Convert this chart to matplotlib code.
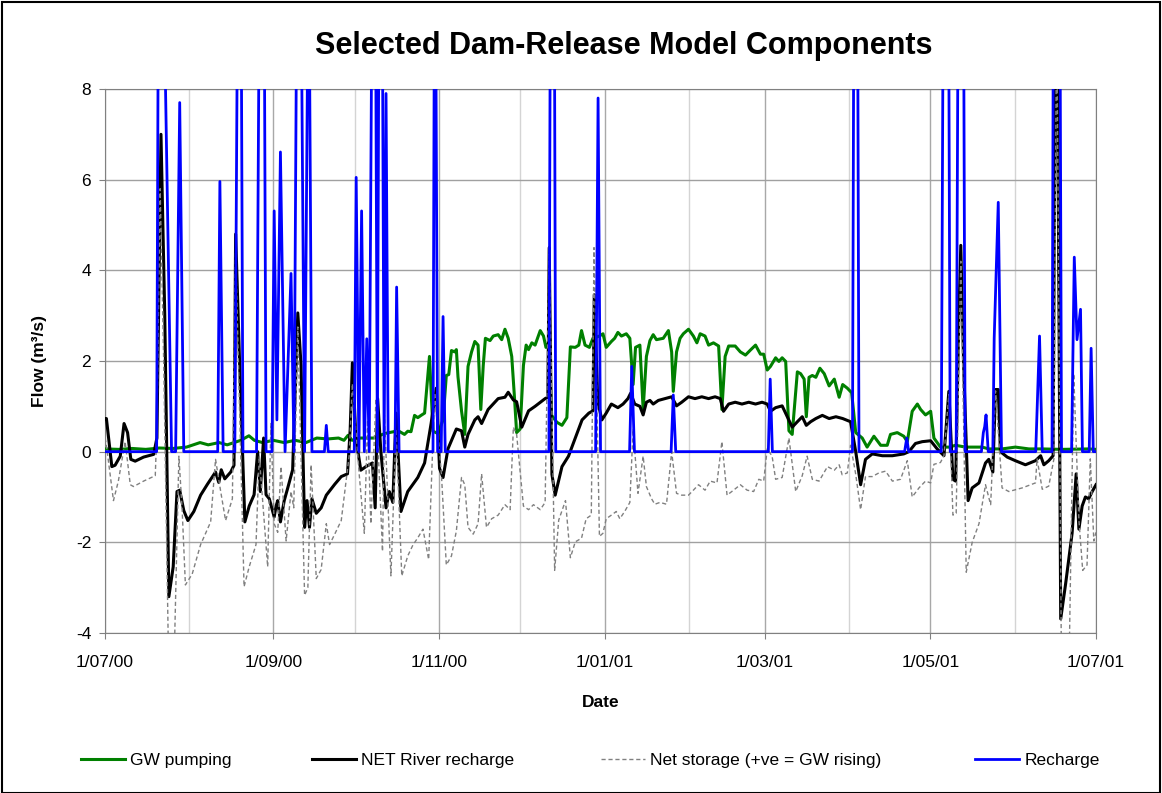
import pandas as pd
import matplotlib
matplotlib.use("Agg")
import matplotlib.pyplot as plt
import matplotlib.dates as mdates
from matplotlib.ticker import FuncFormatter, MultipleLocator
from matplotlib.patches import Rectangle

plt.rcParams['font.family'] = ['Liberation Sans', 'DejaVu Sans']
plt.rcParams['axes.unicode_minus'] = False

start = pd.Timestamp("2000-07-01")
end = pd.Timestamp("2001-07-01")

# days after 1/07/00 and flow (m3/s)
gw_day = [0, 5, 10, 15, 20, 25, 30, 35, 38, 42, 45, 50, 53, 55, 58, 62, 66, 70, 74, 78,
          82, 86, 88, 89.5, 91, 94, 99, 103, 108, 110.3, 111.5, 112.7, 114, 115.2, 116.4, 117.7, 119.5, 120.8, 122.6, 124.5,
          125.7, 126.6, 127.6, 128.8, 129.4, 130, 131.3, 132.5, 133.7, 135, 136.2, 137.4, 138.4, 139.3, 140.1, 141.8, 143, 144.8, 146.1, 147.3,
          148.5, 149.8, 150.8, 151.6, 152.9, 154.1, 155.1, 156, 157.2, 158.4, 160.3, 161.5, 162.4, 163.4, 164.5, 166.4, 168.3, 170.1, 171.4, 173.2,
          174.5, 175.5, 176.8, 178.4, 179.7, 182.1, 183.4, 184.6, 186.5, 187.7, 188.9, 190.2, 192, 193.3, 194.5, 195.4, 197, 198.2, 199.4, 200.7,
          201.9, 203.1, 205.6, 207.5, 208.7, 209.3, 210.5, 211.8, 213, 214.9, 216.7, 218, 219.2, 221, 222.3, 224.1, 226, 227.2, 228.4, 229.7,
          232.1, 234, 235.9, 237.7, 239.6, 241.4, 242.6, 243.9, 245.1, 247, 248.2, 249.4, 250.7, 251.9, 253.1, 255, 256.2, 257.5, 258.3, 259.3,
          260.5, 261.8, 263.3, 264.9, 266.7, 268.6, 270.4, 271.7, 273.4, 275, 276.5, 278.9, 280.7, 283.2, 285.7, 288.1, 289.3, 291.8, 294.2, 295.5,
          297.3, 299.2, 300.4, 302.2, 304.1, 305.3, 307.7, 310.8, 313.3, 316.9, 323.1, 325.5, 330.4, 335.3, 340.3, 345.2, 352.5, 362.3, 365]
gw_flow = [0.06, 0.05, 0.07, 0.05, 0.08, 0.07, 0.1, 0.2, 0.15, 0.2, 0.15, 0.25, 0.35, 0.25, 0.2, 0.25, 0.2, 0.25, 0.2, 0.3,
           0.28, 0.3, 0.25, 0.36, 0.25, 0.3, 0.3, 0.4, 0.46, 0.38, 0.45, 0.44, 0.8, 0.75, 0.8, 0.85, 2.1, 0.45, 0.4, 0.7,
           1.68, 1.7, 2.23, 2.2, 2.25, 1.65, 0.9, 0.38, 1.88, 2.2, 2.43, 2.35, 0.93, 1.9, 2.5, 2.45, 2.55, 2.58, 2.47, 2.7,
           2.5, 2.1, 1.2, 0.42, 0.5, 1.9, 2.35, 2.25, 2.4, 2.35, 2.67, 2.55, 2.3, 2.4, 0.8, 0.65, 0.58, 0.75, 2.31, 2.3,
           2.35, 2.67, 2.35, 2.3, 2.5, 2.55, 2.6, 2.3, 2.43, 2.5, 2.63, 2.55, 2.6, 2.5, 1.48, 2.3, 2.35, 0.93, 2.1, 2.45,
           2.58, 2.47, 2.5, 2.67, 2.2, 1.33, 2.2, 2.5, 2.6, 2.7, 2.55, 2.4, 2.6, 2.55, 2.35, 2.4, 2.33, 0.93, 2.1, 2.33,
           2.33, 2.2, 2.13, 2.24, 2.35, 2.15, 2.15, 1.8, 1.88, 2.07, 1.99, 2.07, 1.99, 0.46, 0.38, 1.76, 1.72, 1.6, 0.77, 1.64,
           1.68, 1.64, 1.84, 1.72, 1.45, 1.6, 1.2, 1.48, 1.4, 1.3, 0.42, 0.3, 0.1, 0.34, 0.14, 0.14, 0.38, 0.42, 0.34, 0.22,
           0.89, 1.05, 0.93, 0.81, 0.89, 0.3, 0.1, 0.1, 0.14, 0.1, 0.1, 0.06, 0.06, 0.1, 0.06, 0.06, 0.05, 0.06, 0.05]

river_day = [0, 0.5, 2.5, 3.7, 5.6, 7, 8.3, 9.5, 11.1, 14.2, 17.9, 19.1, 20.6, 22, 23.5, 25.1, 26.5, 27.5, 29, 30.5,
             32.7, 35.2, 37.7, 40.7, 41.9, 42.8, 44.1, 46.3, 47.5, 48.1, 49.8, 51.5, 53.1, 54.9, 56.2, 57.2, 58.4, 59.3, 60.5, 62.3,
             63, 63.6, 64.6, 66, 67.3, 69.1, 71, 72.2, 73.5, 74.4, 75.3, 76.2, 77.8, 79.6, 81.5, 84.6, 87, 89.3, 90.3, 91.1,
             92.4, 94.2, 96.1, 98.5, 99.5, 100.4, 101.6, 103.5, 104.7, 106, 107.2, 109, 111.5, 115.2, 117.7, 120.1, 122, 123.2, 124.5, 126.3,
             129.4, 131.3, 132.5, 133.7, 136.2, 137.4, 138.7, 141.1, 144.8, 147.3, 148.5, 150.4, 151.6, 153.5, 156, 158.4, 162.1, 163.1, 163.6, 164.6,
             165.8, 168.3, 170.7, 173.2, 175.7, 178.2, 179.7, 180.2, 181.5, 183, 184.6, 186.5, 188.9, 190.8, 192.6, 193.6, 195.1, 197, 198.2, 199.4,
             200.7, 201.9, 203.8, 206.2, 208.7, 210.5, 212.4, 214.9, 217.3, 219.8, 222.3, 224.7, 226.6, 227.8, 229.7, 232.1, 234.6, 237.1, 239.6, 242,
             243.9, 245.1, 247, 249.4, 251.3, 253.1, 255, 256.8, 258.3, 259.9, 261.8, 264.2, 266.7, 269.2, 271.7, 274.6, 276.5, 278.3, 280.1, 282.6,
             286.3, 290, 294.2, 296.1, 298.5, 301, 304.1, 306.5, 309, 310.8, 312.3, 313.3, 314.5, 315.2, 316.3, 317.9, 319.4, 321.9, 324.3, 325.5,
             327, 328, 329, 329.8, 332.3, 335.3, 339, 342.7, 344.6, 345.8, 347.6, 349.2, 350.1, 350.8, 352, 353.8, 356.2, 357.7, 358.7, 359.9,
             361.1, 362.3, 363.6, 365]
river_flow = [0.73, 0.73, -0.33, -0.3, -0.1, 0.62, 0.42, -0.17, -0.21, -0.12, -0.06, 0.3, 7.0, 3.0, -3.2, -2.54, -0.88, -0.85, -1.3, -1.52,
              -1.32, -0.96, -0.72, -0.45, -0.68, -0.4, -0.6, -0.45, -0.3, 4.8, 1.5, -1.55, -1.2, -0.95, 0.0, -0.88, 0.3, -0.95, -1.04, -1.44,
              -1.2, -1.08, -1.55, -1.08, -0.8, -0.4, 3.06, 1.9, -1.67, -1.08, -1.67, -1.04, -1.36, -1.24, -0.96, -0.72, -0.55, -0.49, 0.5, 1.96,
              0.3, -0.41, -0.33, -0.25, -1.24, 1.17, 0.0, -1.24, -0.88, -1.12, 0.85, -1.32, -0.88, -0.57, -0.25, 0.62, 1.4, -0.37, -0.57, 0.06,
              0.5, 0.46, 0.1, 0.38, 0.7, 0.77, 0.62, 0.93, 1.17, 1.2, 1.31, 1.14, 1.1, 0.54, 0.9, 1.0, 1.17, 1.2, 4.5, -0.5,
              -0.96, -0.33, -0.1, 0.3, 0.7, 0.85, 0.9, 3.46, 1.1, 0.7, 0.85, 1.05, 0.97, 1.05, 1.17, 1.29, 1.05, 1.0, 0.81, 1.09,
              1.13, 1.05, 1.13, 1.17, 1.21, 1.01, 1.09, 1.21, 1.17, 1.21, 1.17, 1.21, 1.17, 0.89, 1.05, 1.09, 1.05, 1.09, 1.05, 1.09,
              1.05, 0.89, 0.97, 1.01, 0.77, 0.54, 0.66, 0.77, 0.58, 0.66, 0.73, 0.8, 0.73, 0.77, 0.73, 0.66, 0.0, -0.73, -0.17, -0.05,
              -0.09, -0.09, -0.05, 0.0, 0.18, 0.22, 0.24, 0.06, -0.09, 1.33, -0.61, -0.65, 3.0, 4.55, 1.8, -1.08, -0.8, -0.69, -0.25, -0.17,
              -0.45, 1.37, 1.37, 0.0, -0.12, -0.2, -0.29, -0.2, -0.09, -0.29, -0.2, -0.09, 10.0, 9.0, -3.69, -2.92, -1.8, -0.49, -1.71, -1.2,
              -1.0, -1.04, -0.88, -0.73]

storage_day = [0, 0.5, 3.1, 4.9, 7.4, 9.3, 10.5, 14.2, 18.5, 19.1, 20.3, 21.6, 23.5, 25.3, 27.2, 28.4, 29.6, 32.1, 35.2, 38.9,
               40.7, 42.6, 44.4, 46.9, 48.1, 51.2, 53.1, 55.6, 56.8, 59.9, 61.1, 62.3, 63.6, 64.8, 66.7, 68.5, 69.5, 71, 73.5, 74.7,
               75.9, 77.8, 79.6, 81.5, 82.7, 84.6, 87, 89.9, 91.1, 93.6, 95.5, 96.7, 97.9, 99.8, 102.2, 102.9, 105.3, 107.2, 109.3, 111.5,
               113.4, 115.2, 117.1, 119.2, 121.4, 123.9, 125.7, 127.6, 129.4, 131.3, 132.5, 133.7, 135.6, 137.4, 138.7, 140.5, 142.4, 144.8, 147.3, 149.2,
               150.4, 151.6, 154.1, 156, 157.8, 160.3, 162.1, 163.6, 165.6, 167.1, 169.6, 171.4, 173.2, 175.5, 177.2, 179.1, 180.1, 182.1, 183.4, 184.6,
               186.5, 188.3, 189.6, 191.4, 193.3, 194.5, 196.3, 198.2, 199.4, 201.3, 202.5, 204.4, 206.8, 208.7, 210.5, 212.4, 214.9, 216.7, 218.6, 221,
               222.9, 225.4, 227.2, 229.1, 231.5, 234, 236.5, 238.9, 240.8, 242.6, 243.9, 245.7, 247, 249.4, 251.9, 254.4, 256.8, 258.6, 260.5, 263,
               266.1, 268.6, 270.4, 271.5, 273.4, 274.6, 276.5, 278.3, 280.1, 282.6, 285, 287.5, 290, 293, 295.5, 297.3, 299.8, 302.2, 304.1, 305.3,
               307.7, 309, 310.8, 312.3, 313.5, 315.2, 317.2, 319.4, 321.9, 324.3, 326.2, 328, 330.4, 332.9, 337.8, 342.7, 343.3, 345.2, 347.6, 349.5,
               350.5, 352.3, 355, 356.8, 358.7, 360.1, 361.7, 362.9, 364.2, 365]
storage_flow = [0.3, 0.14, -1.08, -0.65, 0.22, -0.73, -0.77, -0.65, -0.53, 0.5, 5.8, 2.0, -5.0, -5.0, -0.1, -1.28, -2.94, -2.7, -2.05, -1.55,
                -0.17, -0.88, -1.52, -1.04, 4.4, -2.98, -2.54, -2.05, -0.1, -2.54, 0.62, -1.59, -1.78, -0.33, -1.97, -0.88, -1.24, 2.75, -3.17, -3.0,
                -0.29, -2.8, -2.6, -1.59, -2.05, -1.82, -1.52, -0.1, 1.5, -0.49, -1.8, 0.7, -1.59, 1.17, -2.2, 0.8, -2.74, 0.5, -2.74, -2.3,
                -2.06, -1.9, -1.71, -2.38, 1.3, -0.5, -2.5, -2.3, -1.75, -0.57, -0.73, -1.67, -1.82, -1.59, -0.49, -1.67, -1.48, -1.4, -1.17, -1.28,
                0.54, 0.38, -1.2, -1.28, -1.17, -1.28, -1.12, 4.5, -2.62, -1.51, -1.08, -2.34, -1.99, -1.91, -1.48, -1.4, 4.5, -1.87, -1.8, -1.48,
                -1.4, -1.32, -1.48, -1.32, -1.12, 0.5, -0.92, -0.1, -0.77, -1.04, -1.16, -1.12, -1.16, 0.0, -0.92, -0.96, -0.96, -0.85, -0.73, -0.85,
                -0.65, -0.69, 0.22, -0.96, -0.85, -0.73, -0.85, -0.88, -0.61, -0.65, 0.06, -0.1, -0.61, -0.57, 0.3, -0.88, -0.53, -0.1, -0.61, -0.65,
                -0.33, -0.41, -0.29, -0.51, -0.47, 0.14, -0.5, -1.28, -0.55, -0.55, -0.47, -0.43, -0.65, -0.61, -0.2, -1.0, -0.8, -0.65, -0.69, -0.28,
                -0.24, -0.09, 1.26, -1.4, -1.36, 4.2, -2.66, -2.0, -1.59, -0.73, -1.17, 1.34, -0.8, -0.88, -0.8, -0.69, -0.16, -0.83, -0.76, -0.16,
                10.0, -5.0, -5.0, 1.72, -1.5, -2.62, -2.5, -0.16, -1.97, -1.78]

recharge_day = [0, 19, 20, 22, 24.5, 26, 27.5, 29, 41.5, 42.3, 43.5, 47.8, 49, 50, 50.8, 55.8, 57, 58.5, 59.3, 61.5,
                62.3, 63.3, 64.6, 66.3, 68.5, 69.6, 70.8, 72, 73.5, 75, 76.2, 80.8, 81.5, 82.2, 91.8, 92.5, 93.5, 94.5, 95.5, 96.4,
                97.3, 98.5, 99.5, 100.3, 101, 102, 102.8, 103.5, 104.3, 106.8, 107.4, 108.3, 120.8, 121.5, 122.5, 123.8, 124.5, 125.3, 163.5, 164.2,
                165.3, 166, 180.7, 181.6, 182.5, 193.2, 194, 195, 208.5, 209.3, 210.2, 244.3, 245, 245.8, 275.3, 276, 277, 277.7, 294.5, 295.3,
                296, 308, 309, 310.5, 311.3, 313.5, 314.5, 316, 316.8, 322.8, 323.5, 324, 324.5, 325.3, 327, 327.5, 329, 330.2, 342.8, 344.2,
                345.2, 348.8, 349.5, 351.5, 352.3, 356, 357, 358, 359.3, 360, 362.5, 363.2, 364, 365]
recharge_flow = [0, 0, 16, 9, 0, 0, 7.7, 0, 0, 5.96, 0, 0, 12, 12, 0, 0, 12, 12, 0, 0,
                 5.31, 0.7, 6.61, 0, 3.93, 0, 12, 12, 0, 12, 0, 0, 0.58, 0, 0, 6.05, 0, 5.31, 0, 2.49,
                 0, 12, 12, 0, 12, 12, 0, 7.9, 0, 0, 3.63, 0, 0, 14, 0, 0, 2.98, 0, 0, 14,
                 14, 0, 0, 7.8, 0, 0, 1.88, 0, 0, 1.25, 0, 0, 1.6, 0, 0, 14, 14, 0, 0, 0.3,
                 0, 0, 14, 14, 0, 0, 14, 14, 0, 0, 0.42, 0.55, 0.81, 0, 0, 2.5, 5.5, 0, 0, 2.55,
                 0, 0, 14, 14, 0, 0, 4.29, 2.47, 3.14, 0, 0, 2.28, 0, 0]


def to_dates(days):
    return start + pd.to_timedelta(days, unit="D")


def date_label(v, pos):
    d = mdates.num2date(v)
    return "{}/{:02d}/{:02d}".format(d.day, d.month, d.year % 100)


fig = plt.figure(figsize=(11.62, 7.93), dpi=100)
ax = fig.add_axes([0.0904, 0.2018, 0.8528, 0.6860])

l1, = ax.plot(to_dates(gw_day), gw_flow, color="#008000", lw=2.2, label="GW pumping", zorder=3)
l2, = ax.plot(to_dates(river_day), river_flow, color="black", lw=2.2, label="NET River recharge", zorder=4)
l3, = ax.plot(to_dates(storage_day), storage_flow, color="#808080", lw=1.0, ls=(0, (3, 2)),
              label="Net storage (+ve = GW rising)", zorder=5)
l4, = ax.plot(to_dates(recharge_day), recharge_flow, color="#0000FF", lw=2.0, label="Recharge", zorder=6)

ax.set_xlim(start, end)
ax.set_ylim(-4, 8)
ax.yaxis.set_major_locator(MultipleLocator(2))
ax.xaxis.set_major_locator(mdates.MonthLocator(bymonth=[1, 3, 5, 7, 9, 11]))
ax.xaxis.set_minor_locator(mdates.MonthLocator())
ax.xaxis.set_major_formatter(FuncFormatter(date_label))

ax.grid(True, which="major", axis="y", color="#a0a0a0", lw=1.0)
ax.grid(True, which="major", axis="x", color="#a8a8a8", lw=1.0)
ax.grid(True, which="minor", axis="x", color="#d4d4d4", lw=1.0)
ax.set_axisbelow(True)
for s in ax.spines.values():
    s.set_color("#808080")
ax.tick_params(axis="both", which="both", length=4, color="#808080", labelsize=12.5, pad=6)
ax.tick_params(axis="x", which="major", pad=12)
ax.tick_params(axis="x", which="minor", length=0)

ax.set_xlabel("Date", fontsize=12.5, fontweight="bold", labelpad=18)
ax.set_ylabel("Flow (m³/s)", fontsize=12.5, fontweight="bold", labelpad=21)

fig.text(0.537, 0.942, "Selected Dam-Release Model Components", ha="center", va="center",
         fontsize=22, fontweight="bold")

# one legend per entry, placed where Excel put them
for h, x in zip([l1, l2, l3, l4], [81, 312, 601, 975]):
    fig.legend(handles=[h], loc="center left", bbox_to_anchor=(x / 1162, 1 - 760 / 793),
               borderaxespad=0, borderpad=0, frameon=False, fontsize=12.5,
               handlelength=2.55, handletextpad=0.3)

fig.patches.append(Rectangle((0.002, 0.0), 0.996, 0.998, transform=fig.transFigure,
                             fill=False, edgecolor="black", lw=1.5))

fig.savefig("out.png", dpi=100)
